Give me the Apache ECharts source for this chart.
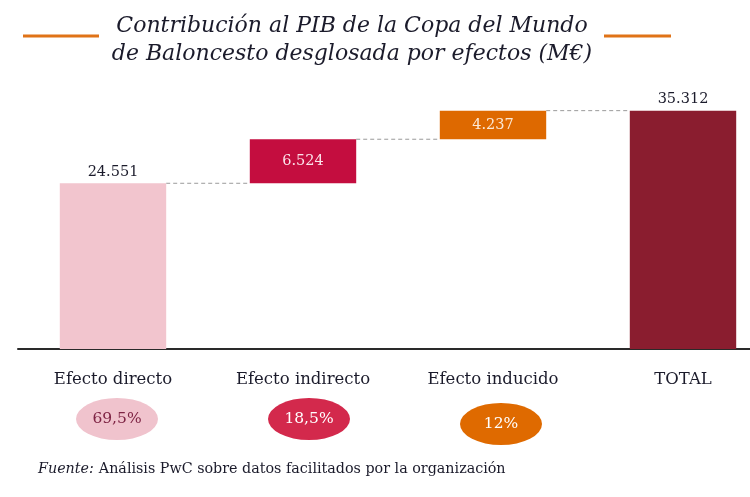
<!DOCTYPE html>
<html>
<head>
<meta charset="utf-8">
<title>Contribución al PIB</title>
<script src="https://cdn.jsdelivr.net/npm/echarts@6/dist/echarts.min.js"></script>
<style>
    html, body { margin: 0; padding: 0; background: #fff; }
    #contain { width: 750px; height: 497px; }
</style>
</head>
<body>
<div id="contain"></div>
<script>
/*datos*/
var categorias = ["Efecto directo", "Efecto indirecto", "Efecto inducido", "TOTAL"];
var valores = [24551, 6524, 4237, 35312];
var etiquetas = ["24.551", "6.524", "4.237", "35.312"];
var porcentajes = ["69,5%", "18,5%", "12%"];
var colores = ["#f2c5ce", "#c40d3f", "#de6900", "#8a1d2f"];
var coloresElipse = ["#f0c3cd", "#d3294c", "#df6a00"];
var coloresTextoElipse = ["#7e2444", "#ffffff", "#ffffff"];

var serif = "'DejaVu Serif', 'Liberation Serif', serif";

/*base invisible de la cascada*/
function baseCascada(v) {
    var base = [];
    var acum = 0;
    for (var i = 0; i < v.length; i++) {
        if (i === 0 || i === v.length - 1) {
            base.push(0);
        } else {
            base.push(acum);
        }
        acum += (i === v.length - 1) ? 0 : v[i];
    }
    return base;
}

/*altura superior de cada barra, para las líneas punteadas*/
function cimas(v) {
    var res = [];
    var acum = 0;
    for (var i = 0; i < v.length - 1; i++) {
        acum += v[i];
        res.push([i, acum]);
    }
    return res;
}

var base = baseCascada(valores);

var myChart = echarts.init(document.getElementById("contain"));
myChart.setOption({
    animation: false,
    title: [
        {
            text: "Contribución al PIB de la Copa del Mundo\nde Baloncesto desglosada por efectos (M€)",
            left: 347,
            top: 7,
            textAlign: "center",
            textStyle: {
                fontFamily: serif,
                fontStyle: "italic",
                fontWeight: "normal",
                fontSize: 22,
                lineHeight: 28,
                color: "#1b1b2b"
            }
        },
        {
            text: "{i|Fuente:} {n|Análisis PwC sobre datos facilitados por la organización}",
            left: 33,
            top: 455,
            textStyle: {
                fontWeight: "normal",
                rich: {
                    i: { fontFamily: serif, fontStyle: "italic", fontWeight: "normal", fontSize: 14.3, color: "#1b1b2b" },
                    n: { fontFamily: serif, fontWeight: "normal", fontSize: 14.3, color: "#1b1b2b" }
                }
            }
        }
    ],
    graphic: [
        { type: "line", shape: { x1: 23, y1: 36, x2: 99, y2: 36 }, style: { stroke: "#e07317", lineWidth: 3 } },
        { type: "line", shape: { x1: 604, y1: 36, x2: 671, y2: 36 }, style: { stroke: "#e07317", lineWidth: 3 } }
    ],
    grid: [
        { left: 18, width: 760, top: 79, height: 270, outerBoundsMode: "none" },
        { left: 18, width: 760, top: 398, height: 42, outerBoundsMode: "none" }
    ],
    xAxis: [
        {
            type: "category",
            data: categorias,
            gridIndex: 0,
            axisTick: { show: false },
            axisLine: { lineStyle: { color: "#2a2a2a", width: 2 } },
            axisLabel: {
                margin: 22,
                fontFamily: serif,
                fontSize: 16.5,
                color: "#1b1b2b"
            }
        },
        {
            type: "category",
            data: categorias,
            gridIndex: 1,
            show: false
        }
    ],
    yAxis: [
        { type: "value", gridIndex: 0, min: 0, max: 40000, show: false },
        { type: "value", gridIndex: 1, min: 0, max: 1, show: false }
    ],
    series: [
        {
            name: "base",
            type: "bar",
            stack: "cascada",
            barWidth: "56%",
            itemStyle: { color: "transparent" },
            data: base,
            silent: true
        },
        {
            name: "valor",
            type: "bar",
            stack: "cascada",
            barWidth: "56%",
            data: valores.map(function (v, i) {
                var dentro = i === 1 || i === 2;
                return {
                    value: v,
                    itemStyle: { color: colores[i] },
                    label: {
                        show: true,
                        position: dentro ? "inside" : "top",
                        distance: 4,
                        formatter: etiquetas[i],
                        fontFamily: serif,
                        fontSize: 14.5,
                        color: dentro ? (i === 1 ? "#fbe3ea" : "#fbe9d6") : "#1b1b2b"
                    }
                };
            })
        },
        {
            name: "conector",
            type: "custom",
            xAxisIndex: 0,
            yAxisIndex: 0,
            data: cimas(valores),
            renderItem: function (params, api) {
                var p0 = api.coord([api.value(0), api.value(1)]);
                var p1 = api.coord([api.value(0) + 1, api.value(1)]);
                var ancho = api.size([1, 0])[0] * 0.56;
                return {
                    type: "line",
                    shape: { x1: p0[0] + ancho / 2, y1: p0[1], x2: p1[0] - ancho / 2, y2: p1[1] },
                    style: { stroke: "#9a9a9a", lineWidth: 1, lineDash: [4, 3] }
                };
            }
        },
        {
            name: "porcentaje",
            type: "scatter",
            xAxisIndex: 1,
            yAxisIndex: 1,
            symbol: "circle",
            symbolSize: [82, 42],
            data: porcentajes.map(function (p, i) {
                return {
                    value: [i, 0.5],
                    symbolOffset: [4 + i * 2, i === 2 ? 5 : 0],
                    itemStyle: { color: coloresElipse[i], opacity: 1 },
                    label: {
                        show: true,
                        position: "inside",
                        formatter: p,
                        fontFamily: serif,
                        fontSize: 15.5,
                        color: coloresTextoElipse[i]
                    }
                };
            })
        }
    ]
});
</script>
</body>
</html>
